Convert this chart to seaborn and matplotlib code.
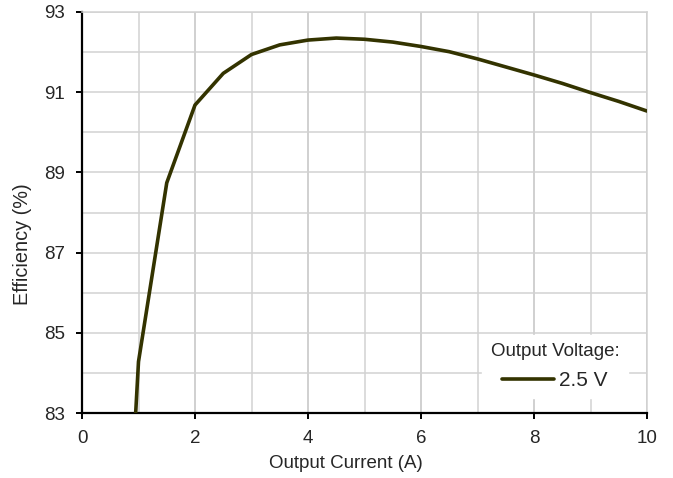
import numpy as np
import pandas as pd
import matplotlib
matplotlib.use("Agg")
import matplotlib.pyplot as plt
from matplotlib.ticker import MultipleLocator
import seaborn as sns

# data
current = [0.95, 1.0, 1.5, 2.0, 2.5, 3.0, 3.5, 4.0, 4.5, 5.0, 5.5, 6.0, 6.5, 7.0, 7.5, 8.0, 8.5, 9.0, 9.5, 10.0]
efficiency = [83.0, 84.28, 88.74, 90.68, 91.47, 91.94, 92.18, 92.30, 92.35, 92.32, 92.25, 92.14, 92.01, 91.83, 91.63, 91.43, 91.22, 90.99, 90.77, 90.53]
voltage_label = "2.5 V"

df = pd.DataFrame({"current": current, "efficiency": efficiency})

sns.set_style("white")
plt.rcParams['font.family'] = ['Liberation Sans', 'DejaVu Sans']

fig = plt.figure(figsize=(6.73, 4.78), dpi=100)
ax = fig.add_axes([82/673, 1 - 413/478, (647 - 82)/673, (413 - 12)/478])

sns.lineplot(data=df, x="current", y="efficiency", color="#333300", linewidth=2.6,
             label=voltage_label, ax=ax, zorder=3)

ax.set_xlim(0, 10)
ax.set_ylim(83, 93)
ax.xaxis.set_major_locator(MultipleLocator(2))
ax.xaxis.set_minor_locator(MultipleLocator(1))
ax.yaxis.set_minor_locator(MultipleLocator(1))
ax.set_yticks([83, 85, 87, 89, 91, 93])

ax.grid(True, which="major", axis="x", color="#c4c4c4", linewidth=1.1)
ax.grid(True, which="minor", axis="x", color="#d2d2d2", linewidth=1.1)
ax.grid(True, which="both", axis="y", color="#d2d2d2", linewidth=1.1)
ax.set_axisbelow(True)

for s in ["left", "bottom"]:
    ax.spines[s].set_color("black")
    ax.spines[s].set_linewidth(1.6)
for s in ["top", "right"]:
    ax.spines[s].set_color("#d2d2d2")
    ax.spines[s].set_linewidth(1.1)

ax.tick_params(axis="both", which="major", direction="out", length=4, width=1.4,
               color="black", labelsize=13.5, pad=8)
ax.tick_params(axis="both", which="minor", length=0)
ax.tick_params(top=False, right=False, left=True, bottom=True)

ax.set_xlabel("Output Current (A)", fontsize=13.5)
ax.set_ylabel("Efficiency (%)", fontsize=14.3)
ax.xaxis.set_label_coords(0.467, -0.105)
ax.yaxis.set_label_coords(-0.088, 0.421)

leg = ax.legend(title="Output Voltage:", loc="lower right", bbox_to_anchor=(0.966, 0.037),
                borderaxespad=0, frameon=True, fontsize=15, title_fontsize=13.5,
                handlelength=2.5, handletextpad=0.25, borderpad=0.4, fancybox=False)
leg.get_frame().set_facecolor("white")
leg.get_frame().set_edgecolor("white")
leg.get_frame().set_alpha(1)

fig.savefig("out.png", dpi=100)
